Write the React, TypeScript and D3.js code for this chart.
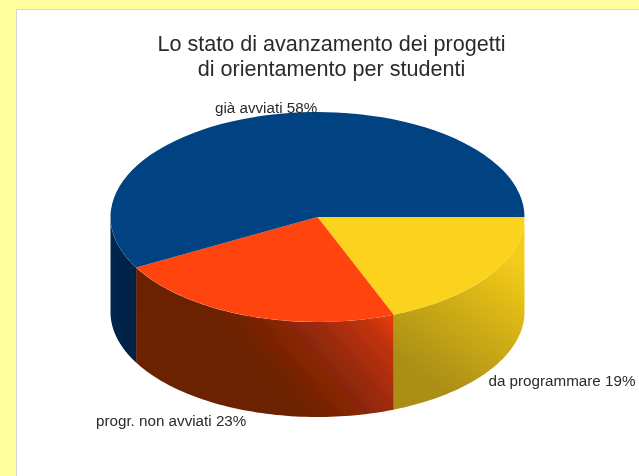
import React from 'react';
import * as d3 from 'd3';

const categories = ['da programmare', 'progr. non avviati', 'già avviati'];
const percents = [19, 23, 58];
const titleLines = ['Lo stato di avanzamento dei progetti', 'di orientamento per studenti'];

const width = 639;
const height = 476;
const cx = 317.5;
const cy = 217;
const rx = 207;
const ry = 105;
const depth = 95;
const fontFamily = '"Liberation Sans", Arial, sans-serif';

const topColors = ['#fbd21f', '#ff440f', '#004382'];
const gradIds = ['wallYellow', 'wallRed', 'wallBlue'];
// where each label sits, in the order of categories
const labelPos: [number, number][] = [[488.5, 386], [96, 426], [215, 113]];

const slices = d3.pie<number>()
  .sort(null)
  .startAngle(Math.PI / 2)
  .endAngle(Math.PI / 2 + 2 * Math.PI)(percents);

const arc = d3.arc<d3.PieArcDatum<number>>().innerRadius(0).outerRadius(rx);

// d3 angles run clockwise from 12 o'clock
const px = (a: number) => cx + rx * Math.sin(a);
const py = (a: number) => cy - ry * Math.cos(a);

const wallPath = (start: number, end: number) => {
  const a0 = Math.max(start, Math.PI / 2);
  const a1 = Math.min(end, Math.PI * 1.5);
  if (a1 <= a0) return null;
  const angles = d3.range(0, 61).map((i) => a0 + ((a1 - a0) * i) / 60);
  const area = d3.area<number>().x(px).y0(py).y1((a) => py(a) + depth);
  return area(angles);
};

const App = () => {
  return (
    <svg
      width={width}
      height={height}
      style={{ position: 'absolute', left: 0, top: 0 }}>
      <defs>
        <linearGradient id="wallYellow" gradientUnits="userSpaceOnUse"
          x1={cx + rx - 20} y1={cy + 35} x2={cx + 100} y2={cy + ry + 50}>
          <stop offset="0" stopColor="#f4cc1b" />
          <stop offset="0.5" stopColor="#ceac16" />
          <stop offset="1" stopColor="#ab8e15" />
        </linearGradient>
        <linearGradient id="wallRed" gradientUnits="userSpaceOnUse"
          x1={cx + 72} y1={cy + ry} x2={cx - 40} y2={cy + ry + depth}>
          <stop offset="0" stopColor="#e03a10" />
          <stop offset="0.12" stopColor="#c0320c" />
          <stop offset="0.5" stopColor="#8c2807" />
          <stop offset="0.85" stopColor="#6c2004" />
        </linearGradient>
        <linearGradient id="wallBlue" x1="0" y1="0" x2="1" y2="0">
          <stop offset="0" stopColor="#00264f" />
          <stop offset="1" stopColor="#012044" />
        </linearGradient>
        <filter id="soft" x="-5%" y="-5%" width="110%" height="110%">
          <feGaussianBlur stdDeviation="0.6" />
        </filter>
      </defs>

      <rect width={width} height={height} fill="#ffff9f" />
      <rect x={16.5} y={9.5} width={width} height={height} fill="#fff" stroke="#d4d4dc" />

      <g filter="url(#soft)">
        <g fontFamily={fontFamily} fill="#2a2a2a" textAnchor="middle" fontSize={21.6}>
          {titleLines.map((t, i) => (
            <text key={t} x={331.5} y={51 + i * 25}>{t}</text>
          ))}
        </g>

        {slices.map((s, i) => {
          const d = wallPath(s.startAngle, s.endAngle);
          return d && <path key={gradIds[i]} d={d} fill={`url(#${gradIds[i]})`} />;
        })}

        <g transform={`translate(${cx},${cy}) scale(1,${ry / rx})`}>
          {slices.map((s, i) => (
            <path key={categories[i]} d={arc(s) as string} fill={topColors[i]} />
          ))}
        </g>

        <g fontFamily={fontFamily} fill="#2a2a2a" fontSize={15.2}>
          {categories.map((c, i) => (
            <text key={c} x={labelPos[i][0]} y={labelPos[i][1]}>{`${c} ${percents[i]}%`}</text>
          ))}
        </g>
      </g>
    </svg>
  );
};

export default App;
